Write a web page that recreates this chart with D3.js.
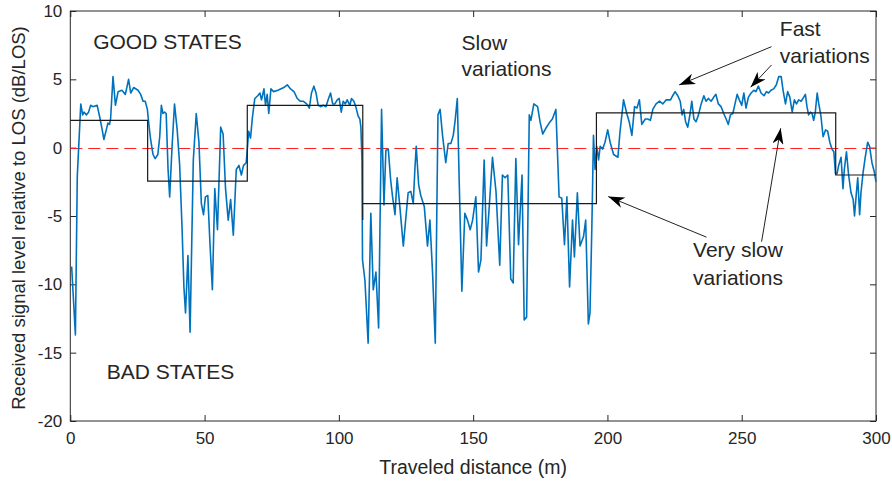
<!DOCTYPE html>
<html>
<head>
<meta charset="utf-8">
<script src="https://cdn.jsdelivr.net/npm/d3@7"></script>
<style>
  body { margin: 0; background: #fff; }
  text { font-family: "Liberation Sans", Arial, sans-serif; fill: #262626; }
</style>
</head>
<body>
<div class="canvas"></div>
<script>
// Measured signal (traveled distance in m, level in dB rel. LOS)
const distance = [0.5,1.9,2.6,3.9,4.6,5.1,6.0,6.8,7.6,8.4,10.0,10.9,11.8,12.5,13.4,14.0,14.6,15.0,15.9,16.8,17.8,19.2,20.5,21.7,22.5,23.6,25.2,26.2,27.1,27.9,28.7,29.2,29.9,30.8,31.6,32.6,33.3,33.9,34.5,35.1,35.7,36.4,37.0,37.9,38.8,39.8,40.7,41.6,42.3,42.9,43.8,44.6,45.8,46.9,47.9,48.8,49.6,50.3,51.2,52.0,52.9,53.8,54.8,56.0,56.9,57.8,58.8,59.7,60.7,61.8,62.8,63.7,64.5,65.5,66.0,66.4,67.1,67.8,68.7,69.8,70.6,71.2,72.1,72.7,73.3,73.9,74.7,75.7,77.3,79.5,80.8,82.0,83.3,84.5,85.6,86.7,88.0,89.0,89.8,90.7,91.5,92.3,93.2,94.2,95.2,96.0,96.9,97.7,98.5,99.4,100.1,100.9,101.6,102.4,103.1,104.1,104.7,105.6,106.3,107.2,107.8,108.2,108.6,108.8,109.7,110.9,111.9,112.8,113.8,114.8,115.9,116.8,117.5,118.4,119.3,120.0,120.9,121.7,122.7,124.0,125.0,125.8,126.8,127.7,128.3,128.8,129.7,130.5,131.8,133.0,133.9,134.9,135.9,136.9,137.7,138.6,139.8,140.7,141.7,142.6,143.3,144.1,144.8,145.8,146.9,147.9,148.9,149.8,151.0,152.0,152.9,154.1,155.0,156.0,157.2,158.5,159.9,160.9,161.9,162.9,164.0,164.9,165.9,166.9,168.2,169.0,169.9,170.9,171.5,172.6,174.0,174.9,175.9,177.0,178.3,179.5,180.8,181.5,182.0,183.0,184.0,184.9,185.9,187.0,187.7,188.8,189.8,191.1,191.9,192.9,193.5,194.2,194.8,195.4,196.0,196.7,197.3,198.2,199.1,200.1,201.0,202.3,203.9,204.7,206.0,207.2,208.1,209.1,210.1,211.0,211.9,212.8,214.1,215.0,216.0,216.9,218.1,219.4,220.6,221.9,223.5,224.3,225.2,226.2,227.1,227.8,228.4,229.1,229.9,230.8,231.4,232.2,233.0,233.9,234.9,235.9,236.7,237.6,238.6,239.6,240.4,241.3,242.3,243.3,244.2,245.0,245.8,246.7,247.5,248.3,249.1,250.0,250.8,251.6,252.5,253.5,254.5,255.3,256.2,257.2,258.3,259.2,260.0,260.9,261.9,262.9,263.8,264.7,265.4,266.3,267.1,267.9,268.8,269.6,270.4,271.2,272.1,272.8,273.7,274.3,274.9,275.6,276.2,276.8,277.4,278.1,278.7,279.5,280.3,281.2,282.0,282.8,283.6,284.3,284.9,285.5,286.1,287.0,287.7,288.2,289.0,289.8,290.7,291.5,292.0,292.7,293.2,293.9,294.4,295.2,296.0,296.9,297.6,298.5,299.4,300.0]
const level = [-8.7,-13.7,-2.1,3.2,2.4,2.6,2.4,2.6,3.1,3.0,3.1,2.3,1.4,0.6,1.3,1.8,1.7,2.1,5.2,3.1,4.1,4.2,3.9,5.0,4.0,4.4,4.2,3.9,3.4,3.4,2.8,1.8,0.6,-0.5,-0.8,-0.5,0.8,3.1,2.5,2.6,2.5,-1.6,-3.6,0.1,3.2,1.3,-1.2,-5.8,-10.2,-12.1,-7.9,-13.5,-0.9,2.5,0.4,-4.1,-4.9,-3.6,-3.5,-7.0,-10.4,-3.0,-6.0,1.5,1.0,-3.0,-5.3,-3.8,-6.4,-1.6,-1.3,-2.0,-1.3,-1.1,0.1,1.2,0.7,2.2,3.6,3.8,4.0,3.5,4.3,3.1,3.9,2.5,4.3,4.1,4.2,4.4,4.6,4.3,4.1,3.6,3.4,3.4,3.2,2.9,4.0,4.5,4.0,3.1,3.0,3.1,3.0,3.5,4.0,3.2,3.2,3.5,3.6,2.6,3.4,3.2,3.5,3.1,3.6,3.4,3.0,2.3,2.1,1.5,-0.9,-8.2,-9.7,-14.3,-4.8,-10.4,-9.1,-13.2,2.8,-4.2,-0.2,-0.1,-2.4,-3.6,-4.9,-2.2,-4.3,-7.2,-5.0,-3.3,-3.2,-4.1,-1.6,0.1,-2.7,-3.5,-4.3,-7.2,-5.3,-9.2,-14.3,2.4,2.8,0.9,-1.1,0.3,0.3,0.9,2.0,3.6,-2.4,-10.5,-4.8,-5.3,-6.0,-5.3,-3.6,-9.1,-8.2,-0.9,-7.2,-4.3,-0.7,-3.2,-8.6,-2.0,-2.2,-2.0,-9.6,-9.9,-0.8,-7.1,-2.0,-12.6,-12.4,2.4,2.0,3.2,3.0,1.9,1.0,1.4,1.8,2.1,2.8,-0.9,-3.6,-3.7,-7.1,-3.6,-10.2,-5.3,-8.0,-3.3,-7.2,-6.5,-5.3,-12.9,-12.1,-5.8,0.9,-1.6,0.1,-0.9,0.1,-0.1,0.4,1.3,0.4,-0.5,-0.7,1.2,3.5,2.5,1.9,0.9,3.0,2.9,3.5,1.7,2.1,2.1,2.0,2.8,3.2,3.4,3.2,3.5,3.5,3.8,4.1,3.8,3.4,2.4,2.8,1.9,1.5,2.5,3.4,2.1,1.9,2.4,3.2,3.8,3.4,3.6,3.4,3.7,3.9,3.2,3.0,2.5,2.1,1.7,2.4,2.5,3.2,3.9,3.5,3.1,4.0,2.9,3.7,4.0,4.2,4.1,4.5,4.0,3.8,4.1,4.0,4.2,4.3,4.6,5.2,5.2,4.2,3.2,4.1,3.7,2.6,3.5,3.2,3.5,3.4,3.6,3.9,3.0,2.4,2.6,2.5,2.0,2.6,4.0,3.2,2.3,0.8,1.3,1.2,0.4,-0.1,-0.3,-1.9,-1.9,-1.3,-0.7,-3.0,-1.6,-0.3,-2.0,-3.3,-3.8,-5.0,-3.3,-2.2,-4.9,-3.3,-1.8,-0.7,0.4,0.1,-1.1,-1.8,-2.5]

// Good/bad state levels (step starts and mean level)
const stateStart = [0, 28.8, 65.9, 108.9, 108.9, 195.9, 285]
const stateLevel = [2, -2.45, 3.1, -5.3, -4.1, 2.55, -2]
const xEnd = 300

const xTicks = [0, 50, 100, 150, 200, 250, 300]
const yTicks = [-20, -15, -10, -5, 0, 5, 10]

const width = 892, height = 481
const margin = { top: 11, right: 16, bottom: 60, left: 70.3 }
const w = width - margin.left - margin.right
const h = height - margin.top - margin.bottom

const svg = d3.select('.canvas')
  .append('svg')
  .attr('width', width)
  .attr('height', height)

const defs = svg.append('defs')
defs.append('marker')
  .attr('id', 'head')
  .attr('viewBox', '0 0 16 11')
  .attr('refX', 16)
  .attr('refY', 5.5)
  .attr('markerWidth', 16)
  .attr('markerHeight', 11)
  .attr('markerUnits', 'userSpaceOnUse')
  .attr('orient', 'auto')
  .append('path')
    .attr('d', 'M0,0 L16,5.5 L0,11 L4.5,5.5 Z')
    .attr('fill', '#000')

const graph = svg.append('g')
  .attr('transform', `translate(${margin.left}, ${margin.top})`)

const x = d3.scaleLinear().domain([0, 300]).range([0, w])
const y = d3.scaleLinear().domain([-20, 10]).range([h, 0])

// axes with inward ticks (box style), plain hyphen for negatives
const tickCol = '#262626'
const fmt = d => String(d)
const styleAxis = g => {
  g.select('.domain').remove()
  g.selectAll('.tick line').attr('stroke', tickCol)
  g.selectAll('.tick text').attr('fill', tickCol).style('font-size', '17px')
}

graph.append('g')
  .attr('transform', `translate(0, ${h})`)
  .call(d3.axisBottom(x).tickValues(xTicks).tickFormat(fmt).tickSizeInner(-6).tickSizeOuter(0).tickPadding(11))
  .call(styleAxis)
graph.append('g')
  .call(d3.axisTop(x).tickValues(xTicks).tickSizeInner(-6).tickSizeOuter(0).tickFormat(''))
  .call(styleAxis)
graph.append('g')
  .call(d3.axisLeft(y).tickValues(yTicks).tickFormat(fmt).tickSizeInner(-6).tickSizeOuter(0).tickPadding(8))
  .call(styleAxis)
graph.append('g')
  .attr('transform', `translate(${w}, 0)`)
  .call(d3.axisRight(y).tickValues(yTicks).tickSizeInner(-6).tickSizeOuter(0).tickFormat(''))
  .call(styleAxis)

graph.append('rect')
  .attr('width', w)
  .attr('height', h)
  .attr('fill', 'none')
  .attr('stroke', tickCol)
  .attr('stroke-width', 1)

// LOS reference (snapped to a pixel row so it stays bright)
const y0 = Math.round(y(0) + margin.top) - margin.top + 0.5
graph.append('line')
  .attr('x1', x(0)).attr('x2', x(300))
  .attr('y1', y0).attr('y2', y0)
  .attr('stroke', '#ff2020')
  .attr('stroke-width', 1.2)
  .attr('stroke-dasharray', '12,6')

// signal
const sig = d3.line()
  .x((d, i) => x(distance[i]))
  .y(d => y(d))
graph.append('path')
  .attr('d', sig(level))
  .attr('fill', 'none')
  .attr('stroke', '#0072BD')
  .attr('stroke-width', 1.6)
  .attr('stroke-linejoin', 'round')

// states
const statePts = stateStart.map((s, i) => [s, stateLevel[i]])
statePts.push([xEnd, stateLevel[stateLevel.length - 1]])
const step = d3.line()
  .x(d => x(d[0]))
  .y(d => y(d[1]))
  .curve(d3.curveStepAfter)
graph.append('path')
  .attr('d', step(statePts))
  .attr('fill', 'none')
  .attr('stroke', '#1a1a1a')
  .attr('stroke-width', 1.2)

// annotation texts
const labels = [
  { t: 'GOOD STATES', x: 8.5, y: 7.22 },
  { t: 'BAD STATES', x: 13.55, y: -16.9 },
  { t: 'Slow', x: 145.7, y: 7.15 },
  { t: 'variations', x: 145.7, y: 5.25 },
  { t: 'Fast', x: 264.2, y: 8.17 },
  { t: 'variations', x: 264.2, y: 6.22 },
  { t: 'Very slow', x: 231.9, y: -8.0 },
  { t: 'variations', x: 231.9, y: -10.04 }
]
graph.selectAll('text.note')
  .data(labels)
  .enter()
  .append('text')
    .attr('class', 'note')
    .attr('x', d => x(d.x))
    .attr('y', d => y(d.y))
    .attr('fill', '#111')
    .style('font-size', '21px')
    .text(d => d.t)

// arrows: [fromX, fromY, toX, toY]
const arrows = [
  [261.1, 7.39, 226.7, 4.59],
  [261.1, 6.05, 253.3, 4.42],
  [236.9, -6.55, 200.3, -3.58],
  [257.4, -6.88, 264.5, 1.42]
]
graph.selectAll('line.arrow')
  .data(arrows)
  .enter()
  .append('line')
    .attr('class', 'arrow')
    .attr('x1', d => x(d[0])).attr('y1', d => y(d[1]))
    .attr('x2', d => x(d[2])).attr('y2', d => y(d[3]))
    .attr('stroke', '#222')
    .attr('stroke-width', 1)
    .attr('marker-end', 'url(#head)')

// axis labels
svg.append('text')
  .attr('x', margin.left + w / 2)
  .attr('y', 474)
  .attr('text-anchor', 'middle')
  .style('font-size', '19.5px')
  .text('Traveled distance (m)')

svg.append('text')
  .attr('transform', `translate(25, ${margin.top + h / 2 + 2}) rotate(-90)`)
  .attr('text-anchor', 'middle')
  .style('font-size', '18.5px')
  .text('Received signal level relative to LOS (dB/LOS)')
</script>
</body>
</html>
